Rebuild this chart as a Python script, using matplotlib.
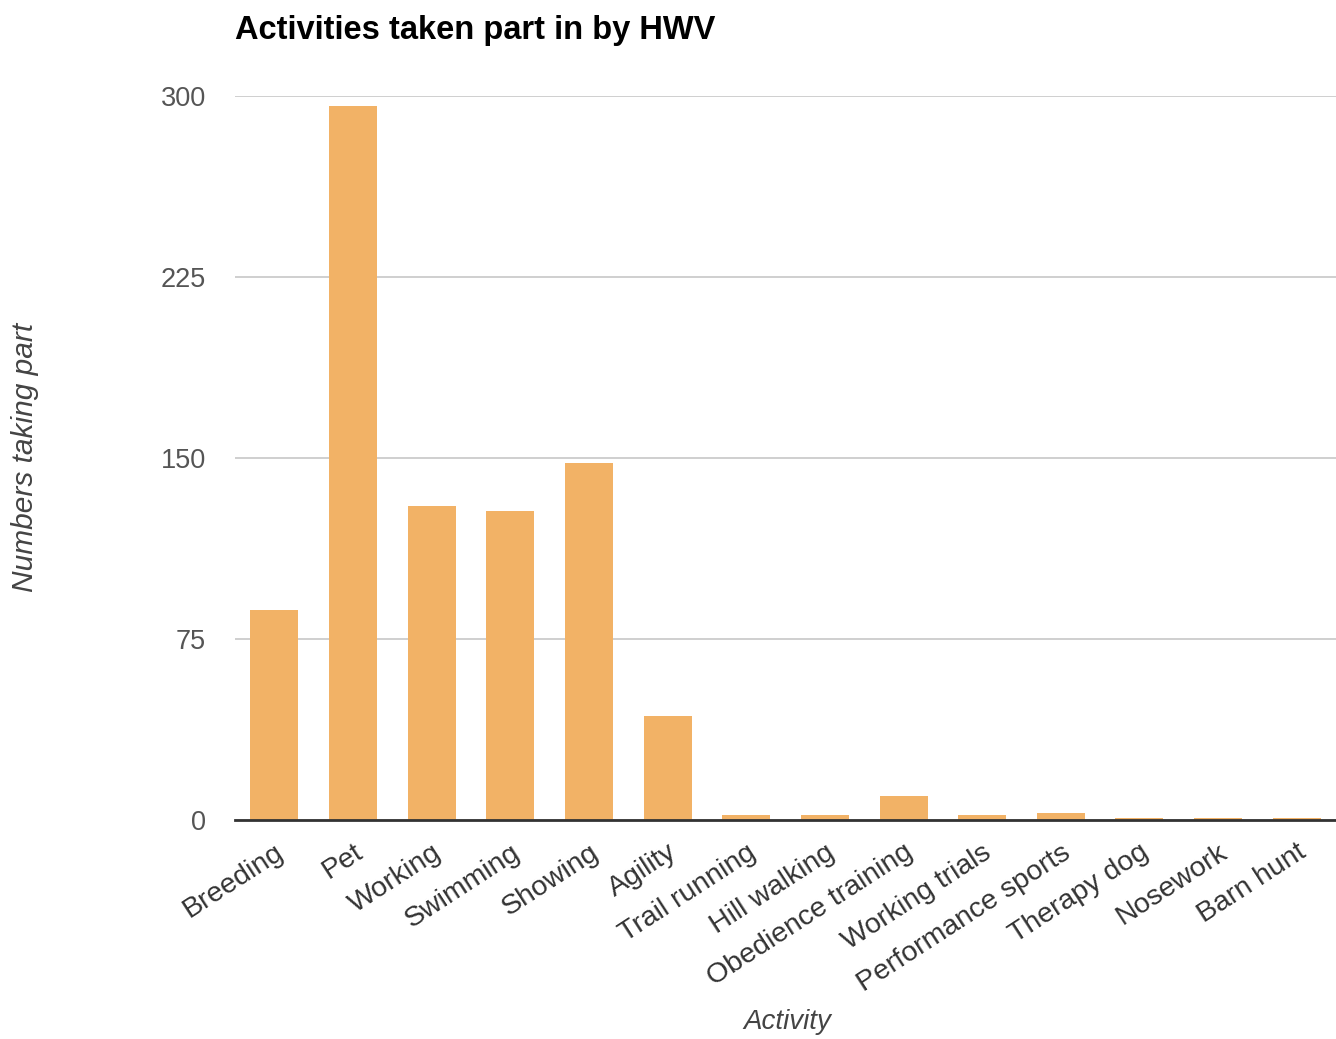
import numpy as np
import matplotlib
matplotlib.use("Agg")
import matplotlib.pyplot as plt

activities = ["Breeding", "Pet", "Working", "Swimming", "Showing", "Agility",
              "Trail running", "Hill walking", "Obedience training", "Working trials",
              "Performance sports", "Therapy dog", "Nosework", "Barn hunt"]
counts = [87, 296, 130, 128, 148, 43, 2, 2, 10, 2, 3, 1, 1, 1]
yticks = [0, 75, 150, 225, 300]

plt.rcParams['font.family'] = ['Liberation Sans', 'DejaVu Sans']

fig = plt.figure(figsize=(13.36, 10.39), dpi=100)
ax = fig.add_axes([0.176, 0.2108, 0.824, 0.6968])

x = np.arange(len(activities))
ax.bar(x, counts, width=0.61, color='#F2B266', zorder=2)

ax.set_xlim(-0.5, len(activities) - 0.5)
ax.set_ylim(0, 300)
ax.set_yticks(yticks)
ax.set_yticklabels([str(v) for v in yticks], fontsize=19.5, color='#555555')
ax.yaxis.grid(True, color='#cccccc', linewidth=1.3, zorder=0)
ax.tick_params(axis='y', length=0, pad=21)
ax.tick_params(axis='x', length=0, pad=14)

ax.set_xticks(x)
ax.set_xticklabels(activities, rotation=33, ha='right', rotation_mode='anchor',
                   fontsize=20.5, color='#333333')
for lbl in ax.get_xticklabels():
    lbl.set_x(lbl.get_position()[0])

for s in ['top', 'right', 'left']:
    ax.spines[s].set_visible(False)
ax.spines['bottom'].set_color('#333333')
ax.spines['bottom'].set_linewidth(2)
ax.spines['bottom'].set_zorder(3)

fig.text(0.019, 0.56, "Numbers taking part", fontsize=21.5, style='italic', color='#444444',
         rotation=90, ha='center', va='center')
fig.text(0.589, 0.004, "Activity", fontsize=20, style='italic', color='#444444', ha='center', va='bottom')
fig.text(0.176, 0.956, "Activities taken part in by HWV", fontsize=23.5, fontweight='bold',
         color='#000000', ha='left', va='bottom')

fig.savefig("out.png", dpi=100)
